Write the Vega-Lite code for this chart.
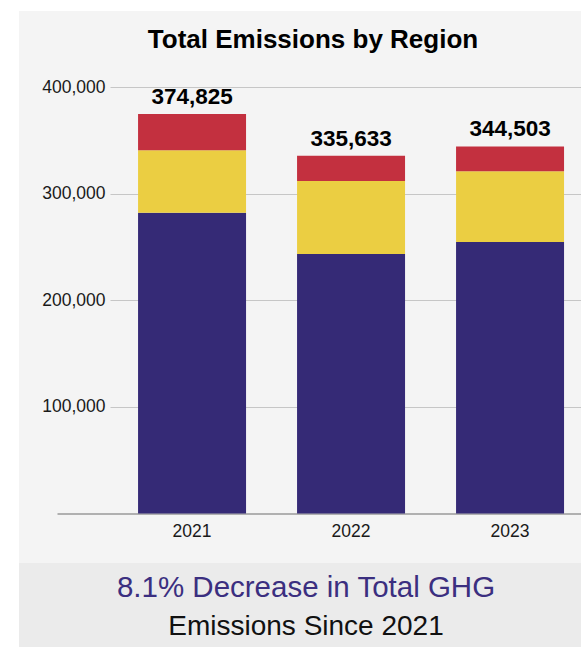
{
  "$schema": "https://vega.github.io/schema/vega-lite/v6.json",
  "background": "#ffffff",
  "padding": {"left": 19, "top": 11, "right": 0, "bottom": 0},
  "spacing": 0,
  "config": {
    "font": "Liberation Sans",
    "view": {"stroke": null}
  },
  "datasets": {
    "emissions": [
      {"year": "2021", "region": "Region A", "tonnes": 282200},
      {"year": "2021", "region": "Region B", "tonnes": 58800},
      {"year": "2021", "region": "Region C", "tonnes": 33825},
      {"year": "2022", "region": "Region A", "tonnes": 243500},
      {"year": "2022", "region": "Region B", "tonnes": 68500},
      {"year": "2022", "region": "Region C", "tonnes": 23633},
      {"year": "2023", "region": "Region A", "tonnes": 254700},
      {"year": "2023", "region": "Region B", "tonnes": 66600},
      {"year": "2023", "region": "Region C", "tonnes": 23203}
    ],
    "summary": [
      {"line": 1, "text": "8.1% Decrease in Total GHG"},
      {"line": 2, "text": "Emissions Since 2021"}
    ]
  },
  "vconcat": [
    {
      "width": 562,
      "height": 552,
      "view": {"fill": "#f4f4f4", "stroke": null},
      "title": {
        "text": "Total Emissions by Region",
        "fontSize": 26,
        "fontWeight": "bold",
        "color": "#000000",
        "anchor": "middle",
        "frame": "group",
        "baseline": "alphabetic",
        "offset": -63,
        "dx": 13
      },
      "data": {"name": "emissions"},
      "encoding": {
        "x": {
          "field": "year",
          "type": "ordinal",
          "scale": {"range": [38, 562], "paddingInner": 0.3208, "paddingOuter": 0.3082, "align": 0.827},
          "axis": {
            "title": null,
            "orient": "bottom",
            "offset": -49.5,
            "labelAngle": 0,
            "labelFontSize": 17.5,
            "labelColor": "#1a1a1a",
            "labelPadding": 9,
            "ticks": false,
            "domain": true,
            "domainColor": "#9a9a9a",
            "domainWidth": 1.5
          }
        }
      },
      "layer": [
        {
          "mark": {"type": "bar"},
          "encoding": {
            "y": {
              "field": "tonnes",
              "type": "quantitative",
              "aggregate": "sum",
              "stack": "zero",
              "scale": {"domain": [0, 400000], "range": [502.4, 76.3], "nice": false},
              "axis": {
                "title": null,
                "orient": "left",
                "offset": -91,
                "values": [0, 100000, 200000, 300000, 400000],
                "format": ",d",
                "labelExpr": "datum.value === 0 ? '' : datum.label",
                "labelFontSize": 17.5,
                "labelColor": "#1a1a1a",
                "labelPadding": 476,
                "grid": false,
                "domain": false,
                "ticks": true,
                "tickSize": -471,
                "tickWidth": 1.2,
                "tickColor": {"condition": {"test": "datum.value === 0", "value": "transparent"}, "value": "#c6c6c6"}
              }
            },
            "color": {
              "field": "region",
              "type": "nominal",
              "scale": {"domain": ["Region A", "Region B", "Region C"], "range": ["#352a76", "#ebce42", "#c3303f"]},
              "legend": null
            },
            "order": {"field": "region", "sort": "ascending"}
          }
        },
        {
          "transform": [
            {"aggregate": [{"op": "sum", "field": "tonnes", "as": "total"}], "groupby": ["year"]}
          ],
          "mark": {"type": "text", "fontSize": 22.5, "fontWeight": "bold", "color": "#000000", "baseline": "alphabetic", "dy": -10},
          "encoding": {
            "y": {"field": "total", "type": "quantitative"},
            "text": {"field": "total", "type": "quantitative", "format": ",d"}
          }
        }
      ]
    },
    {
      "width": 562,
      "height": 84,
      "view": {"fill": "#ebebeb", "stroke": null},
      "data": {"name": "summary"},
      "encoding": {
        "y": {
          "field": "line",
          "type": "ordinal",
          "scale": {"type": "point", "padding": 0.58, "align": 0.55},
          "axis": null
        },
        "text": {"field": "text", "type": "nominal"}
      },
      "layer": [
        {
          "transform": [{"filter": "datum.line === 1"}],
          "mark": {"type": "text", "fontSize": 29.5, "color": "#3b2f80", "baseline": "middle", "dx": 6}
        },
        {
          "transform": [{"filter": "datum.line === 2"}],
          "mark": {"type": "text", "fontSize": 28, "color": "#111111", "baseline": "middle", "dx": 6}
        }
      ]
    }
  ]
}
